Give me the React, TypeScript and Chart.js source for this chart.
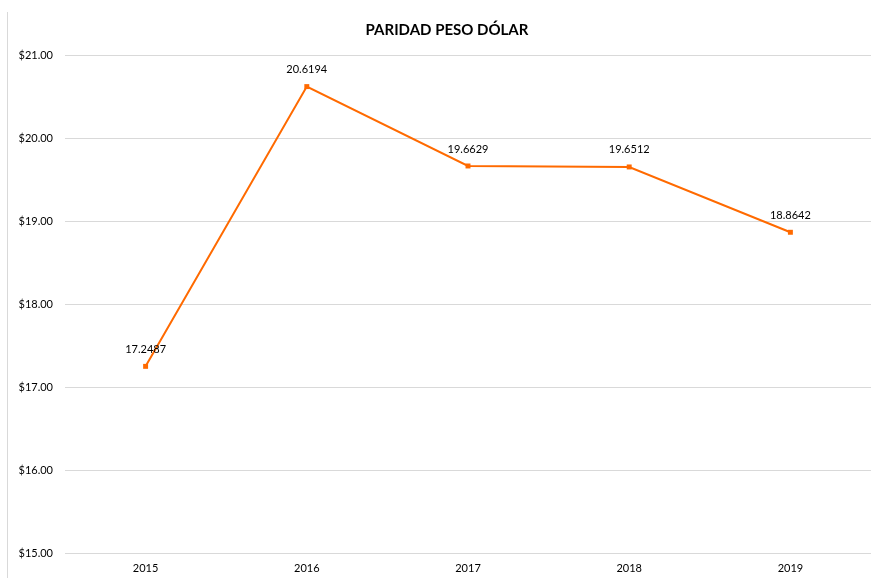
import React, { useEffect, useRef } from "react";
import { Chart, registerables } from "chart.js";

Chart.register(...registerables);

const years = ["2015", "2016", "2017", "2018", "2019"];
const rates = [17.2487, 20.6194, 19.6629, 19.6512, 18.8642];
const yMin = 15;
const yMax = 21;
const titleText = "PARIDAD PESO DÓLAR";

const FONT = "Lato, 'Liberation Sans', sans-serif";

const pointLabels = {
  id: "pointLabels",
  afterDatasetsDraw(chart: any) {
    const ctx = chart.ctx;
    const meta = chart.getDatasetMeta(0);
    ctx.save();
    ctx.font = `11px ${FONT}`;
    ctx.fillStyle = "#000000";
    ctx.textAlign = "center";
    ctx.textBaseline = "middle";
    meta.data.forEach((pt: any, i: number) => {
      ctx.fillText(rates[i].toFixed(4), pt.x, pt.y - 17);
    });
    ctx.restore();
  },
};

const frame = {
  id: "frame",
  beforeDraw(chart: any) {
    const ctx = chart.ctx;
    ctx.save();
    ctx.strokeStyle = "#d9d9d9";
    ctx.lineWidth = 1;
    ctx.beginPath();
    ctx.moveTo(7.5, 12);
    ctx.lineTo(7.5, chart.height);
    ctx.stroke();
    ctx.font = `bold 15px ${FONT}`;
    ctx.fillStyle = "#000000";
    ctx.textAlign = "center";
    ctx.textBaseline = "middle";
    ctx.fillText(titleText, 447, 30);
    ctx.restore();
  },
};

export default function App() {
  const ref = useRef<HTMLCanvasElement | null>(null);
  useEffect(() => {
    if (!ref.current) return;
    const chart = new Chart(ref.current, {
      type: "line",
      data: {
        labels: years,
        datasets: [
          {
            data: rates,
            borderColor: "#FF6A00",
            backgroundColor: "#FF6A00",
            borderWidth: 2,
            pointStyle: "rect",
            pointRadius: 3.5,
            pointBorderWidth: 0,
            tension: 0,
          },
        ],
      },
      plugins: [pointLabels, frame],
      options: {
        animation: false,
        responsive: false,
        maintainAspectRatio: false,
        layout: { padding: { left: 0, right: 2, top: 55, bottom: 0 } },
        plugins: {
          legend: { display: false },
          tooltip: { enabled: false },
          title: { display: false },
        },
        scales: {
          x: {
            offset: true,
            grid: { display: false, drawTicks: false },
            border: { display: false },
            ticks: {
              color: "#000000",
              font: { family: FONT, size: 11 },
              padding: 9,
            },
            afterFit(scale: any) {
              scale.height = 25;
            },
          },
          y: {
            min: yMin,
            max: yMax,
            grid: { color: "#d9d9d9", lineWidth: 1, drawTicks: false },
            border: { display: false },
            ticks: {
              stepSize: 1,
              color: "#000000",
              font: { family: FONT, size: 11 },
              padding: 12,
              callback: (v: any) => "$" + Number(v).toFixed(2),
            },
            afterFit(scale: any) {
              scale.width = 65;
            },
          },
        },
      },
    });
    return () => chart.destroy();
  }, []);
  return (
    <div style={{ position: "fixed", left: 0, top: 0, width: 875, height: 578, background: "#fff" }}>
      <canvas ref={ref} width={875} height={578} style={{ display: "block", width: 875, height: 578 }} />
    </div>
  );
}
